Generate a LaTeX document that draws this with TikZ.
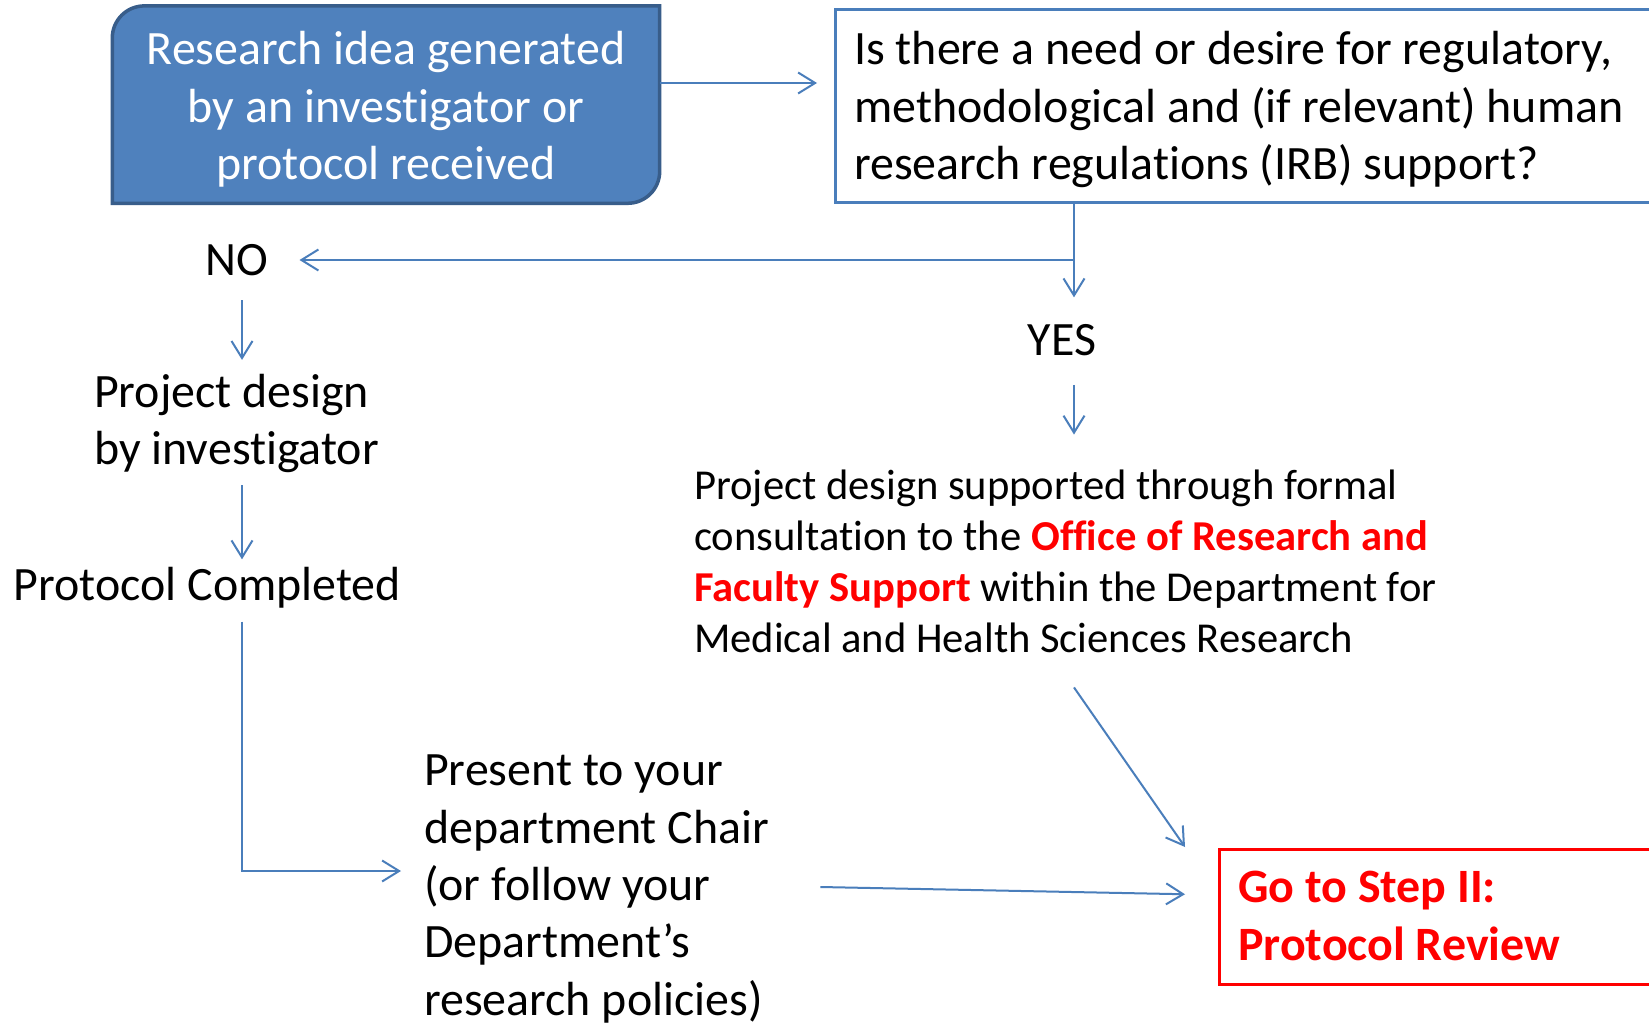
\documentclass[tikz,border=0pt]{standalone}
\usepackage{fontspec}
\setmainfont{Carlito}[Ligatures=NoCommon]
\usetikzlibrary{arrows.meta,backgrounds,calc}
\definecolor{lineblue}{HTML}{4A7EBB}
\definecolor{fillblue}{HTML}{4F81BD}
\definecolor{edgeblue}{HTML}{385D8A}
\definecolor{brightred}{HTML}{FF0000}
\newcommand{\bigtext}{\fontsize{47.9}{57.3}\selectfont}
\newcommand{\smalltext}{\fontsize{42.6}{51.2}\selectfont}
\newcommand{\redbf}[1]{\textcolor{brightred}{\bfseries #1}}
\begin{document}
\begin{tikzpicture}[x=1pt,y=1pt,
  txt/.style={inner sep=0pt, font=\bigtext, align=left},
  arr/.style={draw=lineblue, line width=2pt, -{Straight Barb[length=17pt,width=21pt]}},
  framebox/.style={inner sep=0pt, anchor=north west}]
\clip (0,0) rectangle (1649,-1024);

% helper coordinates
\coordinate (rowA) at (0,-83);
\coordinate (rowB) at (0,-871);
\coordinate (colL) at (242,0);
\coordinate (colR) at (1074,0);
\coordinate (j) at (1074,-260);

% nodes
\node[inner sep=0pt, minimum width=547pt, minimum height=197pt] (idea) at (386,-104.6) {};
\node[txt, align=center, text=white] (ideat) at (386,-109.5)
  {Research idea generated\\by an investigator or\\protocol received};
\begin{scope}[on background layer]
\fill[white] (0,0) rectangle (1649,-1024);
\draw[edgeblue, line width=3.5pt, fill=fillblue]
  (idea.south west) -- ([yshift=-32pt]idea.north west)
  arc[start angle=180, end angle=90, radius=32pt]
  -- (idea.north east) -- ([yshift=32pt]idea.south east)
  arc[start angle=0, end angle=-90, radius=32pt] -- cycle;
\end{scope}

\node[framebox, draw=lineblue, line width=2.5pt, minimum width=900pt, minimum height=193pt] (q) at (834,-8.4) {};
\node[txt, anchor=west] (qt) at (854,-109.6)
  {Is there a need or desire for regulatory,\\methodological and (if relevant) human\\research regulations (IRB) support?};

\node[txt] (no) at (237,-260) {NO};
\node[txt] (yes) at (1062,-340) {YES};
\node[txt, anchor=west] (pd) at (94,-423.5) {Project design\\by investigator};
\node[txt, anchor=west] (pc) at (13.7,-588) {Protocol Completed};
\node[txt, anchor=west] (pr) at (424,-889)
  {Present to your\\department Chair\\(or follow your\\Department’s\\research policies)};
\node[txt, font=\smalltext, anchor=west] (ps) at (694,-561.5)
  {Project design supported through formal\\consultation to the \redbf{Office of Research and}\\\redbf{Faculty Support} within the Department for\\Medical and Health Sciences Research};

\node[framebox, draw=brightred, line width=2.5pt, minimum width=600pt, minimum height=135pt] (rbox) at (1218,-848) {};
\node[txt, text=brightred, font=\bigtext\bfseries, anchor=west] (rt) at (1238,-916) {Go to Step II:\\Protocol Review};

% connectors
\draw[arr, shorten >=17pt] (idea.east |- rowA) -- (q.west |- rowA);
\draw[arr, shorten >=26.75pt] (q.south -| colR) -- (yes.north -| colR);
\draw[arr, shorten >=31pt] (j) -- (no.east);
\draw[arr, shorten <=24.5pt, shorten >=14pt] (no.south -| colL) -- (pd.north -| colL);
\draw[arr, shorten <=12pt, shorten >=8pt] (pd.south -| colL) -- (pc.north -| colL);
\draw[arr, shorten <=13pt, shorten >=23pt] (pc.south -| colL) |- (pr.west |- rowB);
\draw[arr, shorten <=29pt, shorten >=35pt] (yes.south -| colR) -- (ps.north -| colR);
\draw[arr] ($(ps.south -| colR)+(0,-34)$) -- ($(rbox.north west)+(-33,1)$);
\draw[arr] ($(pr.east)+(51,2)$) -- ($(rbox.west)+(-33,22.5)$);
\end{tikzpicture}
\end{document}
